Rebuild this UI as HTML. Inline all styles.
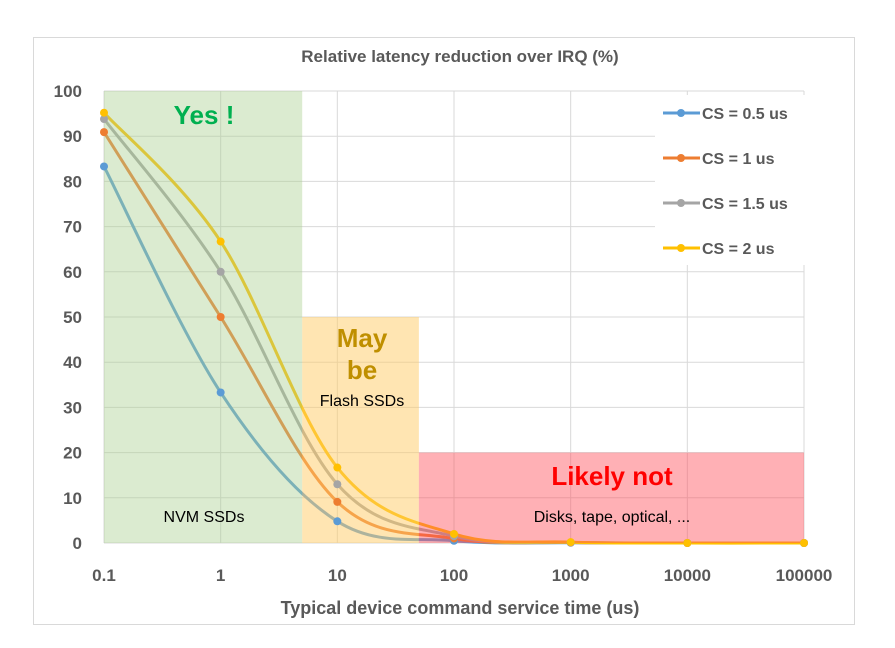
<!DOCTYPE html>
<html><head><meta charset="utf-8"><style>
body{margin:0;background:#fff;width:895px;height:643px;overflow:hidden}
svg text{font-family:"Liberation Sans",sans-serif}
</style></head><body>
<svg id="chart" width="895" height="643" xmlns="http://www.w3.org/2000/svg">
<rect x="33.5" y="37.5" width="821" height="587" fill="#fff" stroke="#d9d9d9"/>
<text x="460" y="62" text-anchor="middle" font-size="17" font-weight="bold" fill="#595959">Relative latency reduction over IRQ (%)</text>
<g id="grid"></g><g id="lines"></g><g id="regions"></g><g id="marks"></g><g id="axes"></g>
<text x="460" y="614" text-anchor="middle" font-size="18" font-weight="bold" fill="#595959">Typical device command service time (us)</text>
<text x="204" y="124" text-anchor="middle" font-size="26" font-weight="bold" fill="#00b050">Yes !</text>
<text x="204" y="522" text-anchor="middle" font-size="16" fill="#000">NVM SSDs</text>
<text x="362" y="347" text-anchor="middle" font-size="26" font-weight="bold" fill="#bf8f00">May</text>
<text x="362" y="379" text-anchor="middle" font-size="26" font-weight="bold" fill="#bf8f00">be</text>
<text x="362" y="406" text-anchor="middle" font-size="16" fill="#000">Flash SSDs</text>
<text x="612" y="485" text-anchor="middle" font-size="26" font-weight="bold" fill="#ff0000">Likely not</text>
<text x="612" y="522" text-anchor="middle" font-size="16" fill="#000">Disks, tape, optical, ...</text>
<g id="legend"></g>
</svg>
<script>
const categories=[0.1,1,10,100,1000,10000,100000];
const seriesNames=["CS = 0.5 us","CS = 1 us","CS = 1.5 us","CS = 2 us"];
const s05=[83.3,33.3,4.8,0.5,0.05,0,0];
const s1=[90.9,50,9.1,1,0.1,0,0];
const s15=[93.8,60,13,1.5,0.15,0,0];
const s2=[95.2,66.7,16.7,2,0.2,0,0];
const yTicks=[0,10,20,30,40,50,60,70,80,90,100];
const xTickLabels=["0.1","1","10","100","1000","10000","100000"];
const colors=["#5b9bd5","#ed7d31","#a5a5a5","#ffc000"];
const series=[s05,s1,s15,s2];
const X0=104,X1=804,Y0=543,Y1=91;
const x=v=>X0+(Math.log10(v)+1)/6*(X1-X0);
const y=v=>Y0-v/100*(Y0-Y1);
const NS="http://www.w3.org/2000/svg";
function mk(t,a,p){const e=document.createElementNS(NS,t);for(const k in a)e.setAttribute(k,a[k]);p.appendChild(e);return e;}
const grid=document.getElementById('grid'),axes=document.getElementById('axes');
yTicks.forEach(t=>{const l=mk('line',{x1:X0,x2:X1,y1:y(t),y2:y(t),stroke:'#d9d9d9'},grid);

const tx=mk('text',{x:82,y:y(t)+6,'text-anchor':'end','font-size':17,'font-weight':'bold',fill:'#595959'},axes);tx.textContent=t;
});
categories.forEach((c,i)=>{const l=mk('line',{x1:x(c),x2:x(c),y1:Y1,y2:Y0,stroke:'#d9d9d9'},grid);

const tx=mk('text',{x:x(c),y:581,'text-anchor':'middle','font-size':17,'font-weight':'bold',fill:'#595959'},axes);tx.textContent=xTickLabels[i];
});
const lines=document.getElementById('lines'),marks=document.getElementById('marks');
series.forEach((s,k)=>{const P=s.map((v,i)=>[x(categories[i]),y(v)]);
let d=`M${P[0][0]},${P[0][1]}`;
for(let i=0;i<P.length-1;i++){const p0=P[Math.max(i-1,0)],p1=P[i],p2=P[i+1],p3=P[Math.min(i+2,P.length-1)];
d+=` C${p1[0]+(p2[0]-p0[0])/6},${p1[1]+(p2[1]-p0[1])/6} ${p2[0]-(p3[0]-p1[0])/6},${p2[1]-(p3[1]-p1[1])/6} ${p2[0]},${p2[1]}`;}
const pa=mk('path',{d:d,fill:'none',stroke:colors[k],'stroke-width':3},lines);

P.forEach(p=>{const c=mk('circle',{cx:p[0],cy:p[1],r:4,fill:colors[k]},marks);
});});
const rg=document.getElementById('regions');
[[0.1,5,100,'rgba(169,208,142,0.42)','yes-region'],[5,50,50,'rgba(255,204,102,0.5)','maybe-region'],[50,100000,20,'rgba(255,80,90,0.45)','likely-not-region']].forEach(r=>{
const e=mk('rect',{x:x(r[0]),y:y(r[2]),width:x(r[1])-x(r[0]),height:Y0-y(r[2]),fill:r[3]},rg);
});
const lg=document.getElementById('legend');
const bg=mk('rect',{x:655,y:95,width:150,height:170,fill:'#fff'},lg);

seriesNames.forEach((n,k)=>{const yy=113+45*k;
const l=mk('line',{x1:663,x2:700,y1:yy,y2:yy,stroke:colors[k],'stroke-width':3},lg);

const c=mk('circle',{cx:681,cy:yy,r:4,fill:colors[k]},lg);

const t=mk('text',{x:702,y:yy+6,'font-size':16,'font-weight':'bold',fill:'#595959'},lg);t.textContent=n;
});
</script>
</body></html>
